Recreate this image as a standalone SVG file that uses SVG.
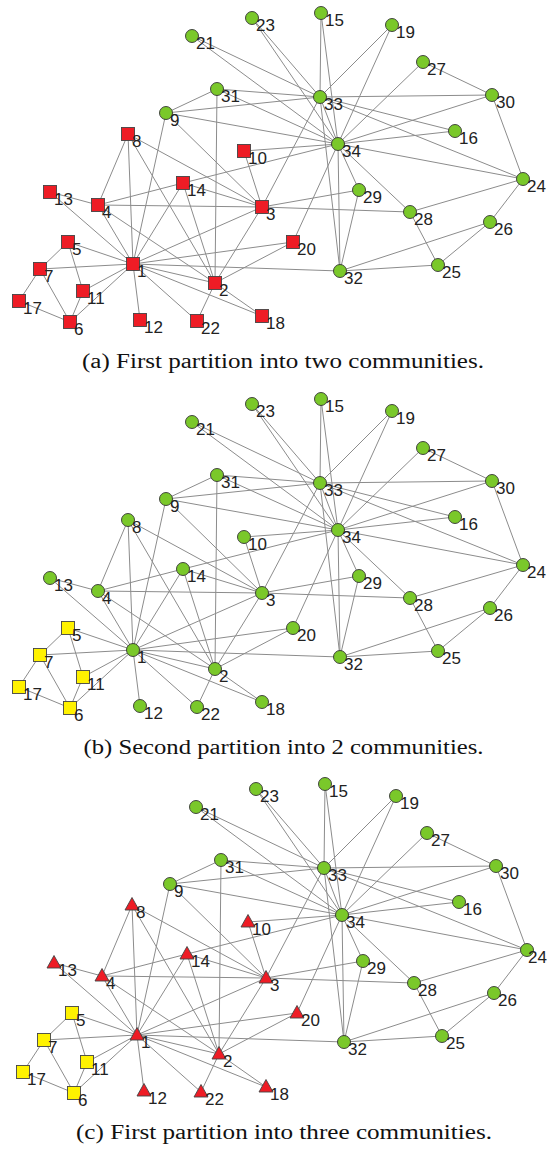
<svg xmlns="http://www.w3.org/2000/svg" width="547" height="1149" viewBox="0 0 547 1149">
<style>
.e line{stroke:#8c8c8c;stroke-width:1}
.g{fill:#7AC82A;stroke:#333;stroke-width:0.9}
.r{fill:#EE1C25;stroke:#444;stroke-width:0.9}
.y{fill:#FFF200;stroke:#444;stroke-width:0.9}
text.l{font-family:"Liberation Sans",Arial,sans-serif;font-size:17px;fill:#222}
text.cap{font-family:"Liberation Serif","DejaVu Serif",serif;font-size:20.5px;fill:#111}
</style>
<rect width="547" height="1149" fill="#fff"/>

<!-- Panel (a) -->
<g id="panel-a">
<g id="a-edges" class="e">
<line x1="133" y1="264" x2="215" y2="283"/><line x1="133" y1="264" x2="262" y2="207"/><line x1="133" y1="264" x2="98" y2="205"/><line x1="133" y1="264" x2="68" y2="242"/><line x1="133" y1="264" x2="70" y2="322"/><line x1="133" y1="264" x2="40" y2="269"/><line x1="133" y1="264" x2="128" y2="134"/><line x1="133" y1="264" x2="166" y2="113"/><line x1="133" y1="264" x2="83" y2="291"/><line x1="133" y1="264" x2="140" y2="320"/><line x1="133" y1="264" x2="50" y2="192"/><line x1="133" y1="264" x2="183" y2="183"/><line x1="133" y1="264" x2="262" y2="316"/><line x1="133" y1="264" x2="293" y2="242"/><line x1="133" y1="264" x2="197" y2="321"/><line x1="133" y1="264" x2="340" y2="271"/>
<line x1="215" y1="283" x2="262" y2="207"/><line x1="215" y1="283" x2="98" y2="205"/><line x1="215" y1="283" x2="128" y2="134"/><line x1="215" y1="283" x2="183" y2="183"/><line x1="215" y1="283" x2="262" y2="316"/><line x1="215" y1="283" x2="293" y2="242"/><line x1="215" y1="283" x2="197" y2="321"/><line x1="215" y1="283" x2="217" y2="89"/>
<line x1="262" y1="207" x2="98" y2="205"/><line x1="262" y1="207" x2="128" y2="134"/><line x1="262" y1="207" x2="166" y2="113"/><line x1="262" y1="207" x2="244" y2="151"/><line x1="262" y1="207" x2="183" y2="183"/><line x1="262" y1="207" x2="410" y2="212"/><line x1="262" y1="207" x2="359" y2="190"/><line x1="262" y1="207" x2="320" y2="97"/>
<line x1="98" y1="205" x2="128" y2="134"/><line x1="98" y1="205" x2="50" y2="192"/><line x1="98" y1="205" x2="183" y2="183"/>
<line x1="68" y1="242" x2="40" y2="269"/><line x1="68" y1="242" x2="83" y2="291"/><line x1="70" y1="322" x2="40" y2="269"/><line x1="70" y1="322" x2="83" y2="291"/><line x1="70" y1="322" x2="19" y2="301"/><line x1="40" y1="269" x2="19" y2="301"/>
<line x1="166" y1="113" x2="217" y2="89"/><line x1="166" y1="113" x2="320" y2="97"/><line x1="166" y1="113" x2="338" y2="144"/><line x1="244" y1="151" x2="338" y2="144"/><line x1="183" y1="183" x2="338" y2="144"/>
<line x1="321" y1="13" x2="320" y2="97"/><line x1="321" y1="13" x2="338" y2="144"/><line x1="455" y1="131" x2="320" y2="97"/><line x1="455" y1="131" x2="338" y2="144"/><line x1="392" y1="25" x2="320" y2="97"/><line x1="392" y1="25" x2="338" y2="144"/><line x1="293" y1="242" x2="338" y2="144"/><line x1="192" y1="36" x2="320" y2="97"/><line x1="192" y1="36" x2="338" y2="144"/><line x1="252" y1="18" x2="320" y2="97"/><line x1="252" y1="18" x2="338" y2="144"/>
<line x1="523" y1="179" x2="490" y2="222"/><line x1="523" y1="179" x2="410" y2="212"/><line x1="523" y1="179" x2="492" y2="95"/><line x1="523" y1="179" x2="320" y2="97"/><line x1="523" y1="179" x2="338" y2="144"/>
<line x1="438" y1="265" x2="490" y2="222"/><line x1="438" y1="265" x2="410" y2="212"/><line x1="438" y1="265" x2="340" y2="271"/><line x1="490" y1="222" x2="340" y2="271"/>
<line x1="423" y1="62" x2="492" y2="95"/><line x1="423" y1="62" x2="338" y2="144"/><line x1="410" y1="212" x2="338" y2="144"/><line x1="359" y1="190" x2="340" y2="271"/><line x1="359" y1="190" x2="338" y2="144"/>
<line x1="492" y1="95" x2="320" y2="97"/><line x1="492" y1="95" x2="338" y2="144"/><line x1="217" y1="89" x2="320" y2="97"/><line x1="217" y1="89" x2="338" y2="144"/><line x1="340" y1="271" x2="320" y2="97"/><line x1="340" y1="271" x2="338" y2="144"/><line x1="320" y1="97" x2="338" y2="144"/>
</g>
<g id="a-n1"><rect class="r" x="126.5" y="257.5" width="13" height="13"/><text class="l" x="137" y="277">1</text></g>
<g id="a-n2"><rect class="r" x="208.5" y="276.5" width="13" height="13"/><text class="l" x="219" y="296">2</text></g>
<g id="a-n3"><rect class="r" x="255.5" y="200.5" width="13" height="13"/><text class="l" x="266" y="220">3</text></g>
<g id="a-n4"><rect class="r" x="91.5" y="198.5" width="13" height="13"/><text class="l" x="102" y="218">4</text></g>
<g id="a-n5"><rect class="r" x="61.5" y="235.5" width="13" height="13"/><text class="l" x="72" y="255">5</text></g>
<g id="a-n6"><rect class="r" x="63.5" y="315.5" width="13" height="13"/><text class="l" x="74" y="335">6</text></g>
<g id="a-n7"><rect class="r" x="33.5" y="262.5" width="13" height="13"/><text class="l" x="44" y="282">7</text></g>
<g id="a-n8"><rect class="r" x="121.5" y="127.5" width="13" height="13"/><text class="l" x="132" y="147">8</text></g>
<g id="a-n9"><circle class="g" cx="166" cy="113" r="6.5"/><text class="l" x="170" y="126">9</text></g>
<g id="a-n10"><rect class="r" x="237.5" y="144.5" width="13" height="13"/><text class="l" x="248" y="164">10</text></g>
<g id="a-n11"><rect class="r" x="76.5" y="284.5" width="13" height="13"/><text class="l" x="87" y="304">11</text></g>
<g id="a-n12"><rect class="r" x="133.5" y="313.5" width="13" height="13"/><text class="l" x="144" y="333">12</text></g>
<g id="a-n13"><rect class="r" x="43.5" y="185.5" width="13" height="13"/><text class="l" x="54" y="205">13</text></g>
<g id="a-n14"><rect class="r" x="176.5" y="176.5" width="13" height="13"/><text class="l" x="187" y="196">14</text></g>
<g id="a-n15"><circle class="g" cx="321" cy="13" r="6.5"/><text class="l" x="325" y="26">15</text></g>
<g id="a-n16"><circle class="g" cx="455" cy="131" r="6.5"/><text class="l" x="459" y="144">16</text></g>
<g id="a-n17"><rect class="r" x="12.5" y="294.5" width="13" height="13"/><text class="l" x="23" y="314">17</text></g>
<g id="a-n18"><rect class="r" x="255.5" y="309.5" width="13" height="13"/><text class="l" x="266" y="329">18</text></g>
<g id="a-n19"><circle class="g" cx="392" cy="25" r="6.5"/><text class="l" x="396" y="38">19</text></g>
<g id="a-n20"><rect class="r" x="286.5" y="235.5" width="13" height="13"/><text class="l" x="297" y="255">20</text></g>
<g id="a-n21"><circle class="g" cx="192" cy="36" r="6.5"/><text class="l" x="196" y="49">21</text></g>
<g id="a-n22"><rect class="r" x="190.5" y="314.5" width="13" height="13"/><text class="l" x="201" y="334">22</text></g>
<g id="a-n23"><circle class="g" cx="252" cy="18" r="6.5"/><text class="l" x="256" y="31">23</text></g>
<g id="a-n24"><circle class="g" cx="523" cy="179" r="6.5"/><text class="l" x="527" y="192">24</text></g>
<g id="a-n25"><circle class="g" cx="438" cy="265" r="6.5"/><text class="l" x="442" y="278">25</text></g>
<g id="a-n26"><circle class="g" cx="490" cy="222" r="6.5"/><text class="l" x="494" y="235">26</text></g>
<g id="a-n27"><circle class="g" cx="423" cy="62" r="6.5"/><text class="l" x="427" y="75">27</text></g>
<g id="a-n28"><circle class="g" cx="410" cy="212" r="6.5"/><text class="l" x="414" y="225">28</text></g>
<g id="a-n29"><circle class="g" cx="359" cy="190" r="6.5"/><text class="l" x="363" y="203">29</text></g>
<g id="a-n30"><circle class="g" cx="492" cy="95" r="6.5"/><text class="l" x="496" y="108">30</text></g>
<g id="a-n31"><circle class="g" cx="217" cy="89" r="6.5"/><text class="l" x="221" y="102">31</text></g>
<g id="a-n32"><circle class="g" cx="340" cy="271" r="6.5"/><text class="l" x="344" y="284">32</text></g>
<g id="a-n33"><circle class="g" cx="320" cy="97" r="6.5"/><text class="l" x="324" y="110">33</text></g>
<g id="a-n34"><circle class="g" cx="338" cy="144" r="6.5"/><text class="l" x="342" y="157">34</text></g>
<text class="cap" x="283" y="368" text-anchor="middle" textLength="402" lengthAdjust="spacingAndGlyphs">(a) First partition into two communities.</text>
</g>

<!-- Panel (b) -->
<g id="panel-b" transform="translate(0,386)">
<g id="b-edges" class="e">
<line x1="133" y1="264" x2="215" y2="283"/><line x1="133" y1="264" x2="262" y2="207"/><line x1="133" y1="264" x2="98" y2="205"/><line x1="133" y1="264" x2="68" y2="242"/><line x1="133" y1="264" x2="70" y2="322"/><line x1="133" y1="264" x2="40" y2="269"/><line x1="133" y1="264" x2="128" y2="134"/><line x1="133" y1="264" x2="166" y2="113"/><line x1="133" y1="264" x2="83" y2="291"/><line x1="133" y1="264" x2="140" y2="320"/><line x1="133" y1="264" x2="50" y2="192"/><line x1="133" y1="264" x2="183" y2="183"/><line x1="133" y1="264" x2="262" y2="316"/><line x1="133" y1="264" x2="293" y2="242"/><line x1="133" y1="264" x2="197" y2="321"/><line x1="133" y1="264" x2="340" y2="271"/>
<line x1="215" y1="283" x2="262" y2="207"/><line x1="215" y1="283" x2="98" y2="205"/><line x1="215" y1="283" x2="128" y2="134"/><line x1="215" y1="283" x2="183" y2="183"/><line x1="215" y1="283" x2="262" y2="316"/><line x1="215" y1="283" x2="293" y2="242"/><line x1="215" y1="283" x2="197" y2="321"/><line x1="215" y1="283" x2="217" y2="89"/>
<line x1="262" y1="207" x2="98" y2="205"/><line x1="262" y1="207" x2="128" y2="134"/><line x1="262" y1="207" x2="166" y2="113"/><line x1="262" y1="207" x2="244" y2="151"/><line x1="262" y1="207" x2="183" y2="183"/><line x1="262" y1="207" x2="410" y2="212"/><line x1="262" y1="207" x2="359" y2="190"/><line x1="262" y1="207" x2="320" y2="97"/>
<line x1="98" y1="205" x2="128" y2="134"/><line x1="98" y1="205" x2="50" y2="192"/><line x1="98" y1="205" x2="183" y2="183"/>
<line x1="68" y1="242" x2="40" y2="269"/><line x1="68" y1="242" x2="83" y2="291"/><line x1="70" y1="322" x2="40" y2="269"/><line x1="70" y1="322" x2="83" y2="291"/><line x1="70" y1="322" x2="19" y2="301"/><line x1="40" y1="269" x2="19" y2="301"/>
<line x1="166" y1="113" x2="217" y2="89"/><line x1="166" y1="113" x2="320" y2="97"/><line x1="166" y1="113" x2="338" y2="144"/><line x1="244" y1="151" x2="338" y2="144"/><line x1="183" y1="183" x2="338" y2="144"/>
<line x1="321" y1="13" x2="320" y2="97"/><line x1="321" y1="13" x2="338" y2="144"/><line x1="455" y1="131" x2="320" y2="97"/><line x1="455" y1="131" x2="338" y2="144"/><line x1="392" y1="25" x2="320" y2="97"/><line x1="392" y1="25" x2="338" y2="144"/><line x1="293" y1="242" x2="338" y2="144"/><line x1="192" y1="36" x2="320" y2="97"/><line x1="192" y1="36" x2="338" y2="144"/><line x1="252" y1="18" x2="320" y2="97"/><line x1="252" y1="18" x2="338" y2="144"/>
<line x1="523" y1="179" x2="490" y2="222"/><line x1="523" y1="179" x2="410" y2="212"/><line x1="523" y1="179" x2="492" y2="95"/><line x1="523" y1="179" x2="320" y2="97"/><line x1="523" y1="179" x2="338" y2="144"/>
<line x1="438" y1="265" x2="490" y2="222"/><line x1="438" y1="265" x2="410" y2="212"/><line x1="438" y1="265" x2="340" y2="271"/><line x1="490" y1="222" x2="340" y2="271"/>
<line x1="423" y1="62" x2="492" y2="95"/><line x1="423" y1="62" x2="338" y2="144"/><line x1="410" y1="212" x2="338" y2="144"/><line x1="359" y1="190" x2="340" y2="271"/><line x1="359" y1="190" x2="338" y2="144"/>
<line x1="492" y1="95" x2="320" y2="97"/><line x1="492" y1="95" x2="338" y2="144"/><line x1="217" y1="89" x2="320" y2="97"/><line x1="217" y1="89" x2="338" y2="144"/><line x1="340" y1="271" x2="320" y2="97"/><line x1="340" y1="271" x2="338" y2="144"/><line x1="320" y1="97" x2="338" y2="144"/>
</g>
<g id="b-n1"><circle class="g" cx="133" cy="264" r="6.5"/><text class="l" x="137" y="277">1</text></g>
<g id="b-n2"><circle class="g" cx="215" cy="283" r="6.5"/><text class="l" x="219" y="296">2</text></g>
<g id="b-n3"><circle class="g" cx="262" cy="207" r="6.5"/><text class="l" x="266" y="220">3</text></g>
<g id="b-n4"><circle class="g" cx="98" cy="205" r="6.5"/><text class="l" x="102" y="218">4</text></g>
<g id="b-n5"><rect class="y" x="61.5" y="235.5" width="13" height="13"/><text class="l" x="72" y="255">5</text></g>
<g id="b-n6"><rect class="y" x="63.5" y="315.5" width="13" height="13"/><text class="l" x="74" y="335">6</text></g>
<g id="b-n7"><rect class="y" x="33.5" y="262.5" width="13" height="13"/><text class="l" x="44" y="282">7</text></g>
<g id="b-n8"><circle class="g" cx="128" cy="134" r="6.5"/><text class="l" x="132" y="147">8</text></g>
<g id="b-n9"><circle class="g" cx="166" cy="113" r="6.5"/><text class="l" x="170" y="126">9</text></g>
<g id="b-n10"><circle class="g" cx="244" cy="151" r="6.5"/><text class="l" x="248" y="164">10</text></g>
<g id="b-n11"><rect class="y" x="76.5" y="284.5" width="13" height="13"/><text class="l" x="87" y="304">11</text></g>
<g id="b-n12"><circle class="g" cx="140" cy="320" r="6.5"/><text class="l" x="144" y="333">12</text></g>
<g id="b-n13"><circle class="g" cx="50" cy="192" r="6.5"/><text class="l" x="54" y="205">13</text></g>
<g id="b-n14"><circle class="g" cx="183" cy="183" r="6.5"/><text class="l" x="187" y="196">14</text></g>
<g id="b-n15"><circle class="g" cx="321" cy="13" r="6.5"/><text class="l" x="325" y="26">15</text></g>
<g id="b-n16"><circle class="g" cx="455" cy="131" r="6.5"/><text class="l" x="459" y="144">16</text></g>
<g id="b-n17"><rect class="y" x="12.5" y="294.5" width="13" height="13"/><text class="l" x="23" y="314">17</text></g>
<g id="b-n18"><circle class="g" cx="262" cy="316" r="6.5"/><text class="l" x="266" y="329">18</text></g>
<g id="b-n19"><circle class="g" cx="392" cy="25" r="6.5"/><text class="l" x="396" y="38">19</text></g>
<g id="b-n20"><circle class="g" cx="293" cy="242" r="6.5"/><text class="l" x="297" y="255">20</text></g>
<g id="b-n21"><circle class="g" cx="192" cy="36" r="6.5"/><text class="l" x="196" y="49">21</text></g>
<g id="b-n22"><circle class="g" cx="197" cy="321" r="6.5"/><text class="l" x="201" y="334">22</text></g>
<g id="b-n23"><circle class="g" cx="252" cy="18" r="6.5"/><text class="l" x="256" y="31">23</text></g>
<g id="b-n24"><circle class="g" cx="523" cy="179" r="6.5"/><text class="l" x="527" y="192">24</text></g>
<g id="b-n25"><circle class="g" cx="438" cy="265" r="6.5"/><text class="l" x="442" y="278">25</text></g>
<g id="b-n26"><circle class="g" cx="490" cy="222" r="6.5"/><text class="l" x="494" y="235">26</text></g>
<g id="b-n27"><circle class="g" cx="423" cy="62" r="6.5"/><text class="l" x="427" y="75">27</text></g>
<g id="b-n28"><circle class="g" cx="410" cy="212" r="6.5"/><text class="l" x="414" y="225">28</text></g>
<g id="b-n29"><circle class="g" cx="359" cy="190" r="6.5"/><text class="l" x="363" y="203">29</text></g>
<g id="b-n30"><circle class="g" cx="492" cy="95" r="6.5"/><text class="l" x="496" y="108">30</text></g>
<g id="b-n31"><circle class="g" cx="217" cy="89" r="6.5"/><text class="l" x="221" y="102">31</text></g>
<g id="b-n32"><circle class="g" cx="340" cy="271" r="6.5"/><text class="l" x="344" y="284">32</text></g>
<g id="b-n33"><circle class="g" cx="320" cy="97" r="6.5"/><text class="l" x="324" y="110">33</text></g>
<g id="b-n34"><circle class="g" cx="338" cy="144" r="6.5"/><text class="l" x="342" y="157">34</text></g>
<text class="cap" x="283.5" y="368" text-anchor="middle" textLength="400" lengthAdjust="spacingAndGlyphs">(b) Second partition into 2 communities.</text>
</g>

<!-- Panel (c) -->
<g id="panel-c" transform="translate(4,771)">
<g id="c-edges" class="e">
<line x1="133" y1="264" x2="215" y2="283"/><line x1="133" y1="264" x2="262" y2="207"/><line x1="133" y1="264" x2="98" y2="205"/><line x1="133" y1="264" x2="68" y2="242"/><line x1="133" y1="264" x2="70" y2="322"/><line x1="133" y1="264" x2="40" y2="269"/><line x1="133" y1="264" x2="128" y2="134"/><line x1="133" y1="264" x2="166" y2="113"/><line x1="133" y1="264" x2="83" y2="291"/><line x1="133" y1="264" x2="140" y2="320"/><line x1="133" y1="264" x2="50" y2="192"/><line x1="133" y1="264" x2="183" y2="183"/><line x1="133" y1="264" x2="262" y2="316"/><line x1="133" y1="264" x2="293" y2="242"/><line x1="133" y1="264" x2="197" y2="321"/><line x1="133" y1="264" x2="340" y2="271"/>
<line x1="215" y1="283" x2="262" y2="207"/><line x1="215" y1="283" x2="98" y2="205"/><line x1="215" y1="283" x2="128" y2="134"/><line x1="215" y1="283" x2="183" y2="183"/><line x1="215" y1="283" x2="262" y2="316"/><line x1="215" y1="283" x2="293" y2="242"/><line x1="215" y1="283" x2="197" y2="321"/><line x1="215" y1="283" x2="217" y2="89"/>
<line x1="262" y1="207" x2="98" y2="205"/><line x1="262" y1="207" x2="128" y2="134"/><line x1="262" y1="207" x2="166" y2="113"/><line x1="262" y1="207" x2="244" y2="151"/><line x1="262" y1="207" x2="183" y2="183"/><line x1="262" y1="207" x2="410" y2="212"/><line x1="262" y1="207" x2="359" y2="190"/><line x1="262" y1="207" x2="320" y2="97"/>
<line x1="98" y1="205" x2="128" y2="134"/><line x1="98" y1="205" x2="50" y2="192"/><line x1="98" y1="205" x2="183" y2="183"/>
<line x1="68" y1="242" x2="40" y2="269"/><line x1="68" y1="242" x2="83" y2="291"/><line x1="70" y1="322" x2="40" y2="269"/><line x1="70" y1="322" x2="83" y2="291"/><line x1="70" y1="322" x2="19" y2="301"/><line x1="40" y1="269" x2="19" y2="301"/>
<line x1="166" y1="113" x2="217" y2="89"/><line x1="166" y1="113" x2="320" y2="97"/><line x1="166" y1="113" x2="338" y2="144"/><line x1="244" y1="151" x2="338" y2="144"/><line x1="183" y1="183" x2="338" y2="144"/>
<line x1="321" y1="13" x2="320" y2="97"/><line x1="321" y1="13" x2="338" y2="144"/><line x1="455" y1="131" x2="320" y2="97"/><line x1="455" y1="131" x2="338" y2="144"/><line x1="392" y1="25" x2="320" y2="97"/><line x1="392" y1="25" x2="338" y2="144"/><line x1="293" y1="242" x2="338" y2="144"/><line x1="192" y1="36" x2="320" y2="97"/><line x1="192" y1="36" x2="338" y2="144"/><line x1="252" y1="18" x2="320" y2="97"/><line x1="252" y1="18" x2="338" y2="144"/>
<line x1="523" y1="179" x2="490" y2="222"/><line x1="523" y1="179" x2="410" y2="212"/><line x1="523" y1="179" x2="492" y2="95"/><line x1="523" y1="179" x2="320" y2="97"/><line x1="523" y1="179" x2="338" y2="144"/>
<line x1="438" y1="265" x2="490" y2="222"/><line x1="438" y1="265" x2="410" y2="212"/><line x1="438" y1="265" x2="340" y2="271"/><line x1="490" y1="222" x2="340" y2="271"/>
<line x1="423" y1="62" x2="492" y2="95"/><line x1="423" y1="62" x2="338" y2="144"/><line x1="410" y1="212" x2="338" y2="144"/><line x1="359" y1="190" x2="340" y2="271"/><line x1="359" y1="190" x2="338" y2="144"/>
<line x1="492" y1="95" x2="320" y2="97"/><line x1="492" y1="95" x2="338" y2="144"/><line x1="217" y1="89" x2="320" y2="97"/><line x1="217" y1="89" x2="338" y2="144"/><line x1="340" y1="271" x2="320" y2="97"/><line x1="340" y1="271" x2="338" y2="144"/><line x1="320" y1="97" x2="338" y2="144"/>
</g>
<g id="c-n1"><polygon class="r" points="133,256.5 140,269 126,269"/><text class="l" x="137" y="277">1</text></g>
<g id="c-n2"><polygon class="r" points="215,275.5 222,288 208,288"/><text class="l" x="219" y="296">2</text></g>
<g id="c-n3"><polygon class="r" points="262,199.5 269,212 255,212"/><text class="l" x="266" y="220">3</text></g>
<g id="c-n4"><polygon class="r" points="98,197.5 105,210 91,210"/><text class="l" x="102" y="218">4</text></g>
<g id="c-n5"><rect class="y" x="61.5" y="235.5" width="13" height="13"/><text class="l" x="72" y="255">5</text></g>
<g id="c-n6"><rect class="y" x="63.5" y="315.5" width="13" height="13"/><text class="l" x="74" y="335">6</text></g>
<g id="c-n7"><rect class="y" x="33.5" y="262.5" width="13" height="13"/><text class="l" x="44" y="282">7</text></g>
<g id="c-n8"><polygon class="r" points="128,126.5 135,139 121,139"/><text class="l" x="132" y="147">8</text></g>
<g id="c-n9"><circle class="g" cx="166" cy="113" r="6.5"/><text class="l" x="170" y="126">9</text></g>
<g id="c-n10"><polygon class="r" points="244,143.5 251,156 237,156"/><text class="l" x="248" y="164">10</text></g>
<g id="c-n11"><rect class="y" x="76.5" y="284.5" width="13" height="13"/><text class="l" x="87" y="304">11</text></g>
<g id="c-n12"><polygon class="r" points="140,312.5 147,325 133,325"/><text class="l" x="144" y="333">12</text></g>
<g id="c-n13"><polygon class="r" points="50,184.5 57,197 43,197"/><text class="l" x="54" y="205">13</text></g>
<g id="c-n14"><polygon class="r" points="183,175.5 190,188 176,188"/><text class="l" x="187" y="196">14</text></g>
<g id="c-n15"><circle class="g" cx="321" cy="13" r="6.5"/><text class="l" x="325" y="26">15</text></g>
<g id="c-n16"><circle class="g" cx="455" cy="131" r="6.5"/><text class="l" x="459" y="144">16</text></g>
<g id="c-n17"><rect class="y" x="12.5" y="294.5" width="13" height="13"/><text class="l" x="23" y="314">17</text></g>
<g id="c-n18"><polygon class="r" points="262,308.5 269,321 255,321"/><text class="l" x="266" y="329">18</text></g>
<g id="c-n19"><circle class="g" cx="392" cy="25" r="6.5"/><text class="l" x="396" y="38">19</text></g>
<g id="c-n20"><polygon class="r" points="293,234.5 300,247 286,247"/><text class="l" x="297" y="255">20</text></g>
<g id="c-n21"><circle class="g" cx="192" cy="36" r="6.5"/><text class="l" x="196" y="49">21</text></g>
<g id="c-n22"><polygon class="r" points="197,313.5 204,326 190,326"/><text class="l" x="201" y="334">22</text></g>
<g id="c-n23"><circle class="g" cx="252" cy="18" r="6.5"/><text class="l" x="256" y="31">23</text></g>
<g id="c-n24"><circle class="g" cx="523" cy="179" r="6.5"/><text class="l" x="524" y="192">24</text></g>
<g id="c-n25"><circle class="g" cx="438" cy="265" r="6.5"/><text class="l" x="442" y="278">25</text></g>
<g id="c-n26"><circle class="g" cx="490" cy="222" r="6.5"/><text class="l" x="494" y="235">26</text></g>
<g id="c-n27"><circle class="g" cx="423" cy="62" r="6.5"/><text class="l" x="427" y="75">27</text></g>
<g id="c-n28"><circle class="g" cx="410" cy="212" r="6.5"/><text class="l" x="414" y="225">28</text></g>
<g id="c-n29"><circle class="g" cx="359" cy="190" r="6.5"/><text class="l" x="363" y="203">29</text></g>
<g id="c-n30"><circle class="g" cx="492" cy="95" r="6.5"/><text class="l" x="496" y="108">30</text></g>
<g id="c-n31"><circle class="g" cx="217" cy="89" r="6.5"/><text class="l" x="221" y="102">31</text></g>
<g id="c-n32"><circle class="g" cx="340" cy="271" r="6.5"/><text class="l" x="344" y="284">32</text></g>
<g id="c-n33"><circle class="g" cx="320" cy="97" r="6.5"/><text class="l" x="324" y="110">33</text></g>
<g id="c-n34"><circle class="g" cx="338" cy="144" r="6.5"/><text class="l" x="342" y="157">34</text></g>
<text class="cap" x="280" y="368" text-anchor="middle" textLength="416" lengthAdjust="spacingAndGlyphs">(c) First partition into three communities.</text>
</g>
</svg>
